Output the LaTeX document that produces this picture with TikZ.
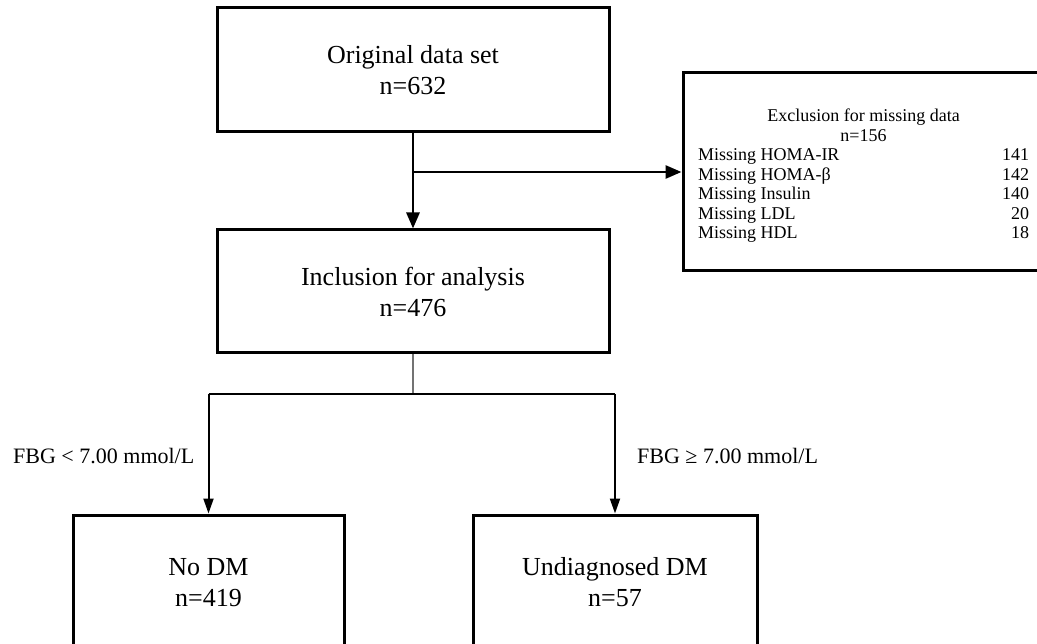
\documentclass[tikz,border=0pt]{standalone}
\usepackage{fontspec}
\setmainfont{Liberation Serif}
\usetikzlibrary{arrows.meta}
\begin{document}
\begin{tikzpicture}[x=1pt,y=-1pt,
  box/.style={draw, line width=3pt, inner sep=0pt, align=center, font=\fontsize{26}{31}\selectfont},
  conn/.style={line width=2.8pt},
  thinconn/.style={line width=2pt},
  greyconn/.style={line width=2.2pt, draw=black!55},
  bigtip/.style={-{Triangle[length=16pt,width=13pt]}},
  smalltip/.style={-{Triangle[length=15pt,width=10pt]}},
  lbl/.style={inner sep=0pt, font=\fontsize{22}{26}\selectfont}]
\clip (0,0) rectangle (1037,644);
\fill[white] (0,0) rectangle (1037,644);
% boxes
\node[box, minimum width=392pt, minimum height=124pt] (orig) at (413,70) {Original data set\\n=632};
\node[box, minimum width=392pt, minimum height=123pt] (incl) at (413,291.5) {Inclusion for analysis\\n=476};
\node[box, minimum width=364pt, minimum height=198pt] (excl) at (865,172) {};
\node[inner sep=0pt, font=\fontsize{18}{19.5}\selectfont] (excltext) at (863.5,176.5) {%
\begin{tabular*}{331pt}{@{}l@{\extracolsep{\fill}}r@{}}
\multicolumn{2}{@{}c@{}}{Exclusion for missing data}\\
\multicolumn{2}{@{}c@{}}{n=156}\\
Missing HOMA-IR & 141\\
Missing HOMA-β & 142\\
Missing Insulin & 140\\
Missing LDL & 20\\
Missing HDL & 18
\end{tabular*}};
\node[box, minimum width=271pt, minimum height=135pt] (nodm) at (208.5,582.5) {No DM\\n=419};
\node[box, minimum width=284pt, minimum height=135pt] (undm) at (615,582.5) {Undiagnosed DM\\n=57};
% labels
\node[lbl, anchor=west] (lblA) at (13,456) {FBG < 7.00 mmol/L};
\node[lbl, anchor=west] (lblB) at (637,456) {FBG ≥ 7.00 mmol/L};
% connectors
\coordinate (br) at (orig.south |- excl.west);
\draw[conn, bigtip] (orig.south) -- (incl.north);
\draw[conn, bigtip] (br) -- (excl.west);
\coordinate (split) at (413,394);
\coordinate (sl) at (nodm.north |- split);
\coordinate (sr) at (undm.north |- split);
\draw[greyconn] (incl.south) -- (split);
\draw[thinconn] (sl) -- (sr);
\draw[thinconn, smalltip] (sl) -- (nodm.north);
\draw[thinconn, smalltip] (sr) -- (undm.north);
\end{tikzpicture}
\end{document}
